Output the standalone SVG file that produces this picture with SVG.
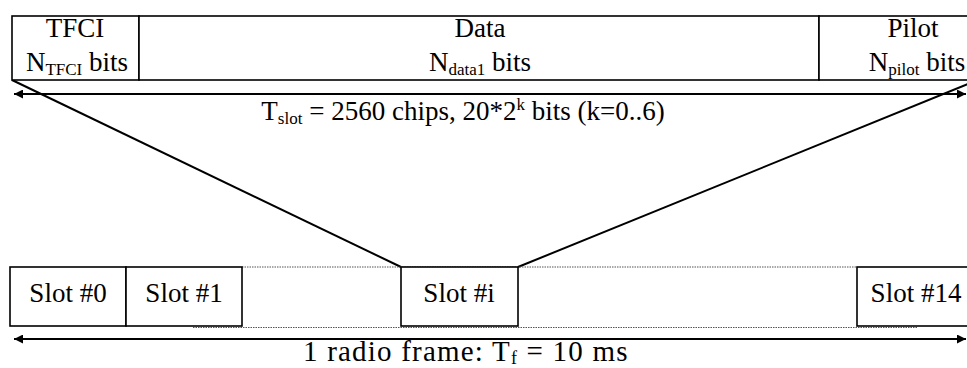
<svg xmlns="http://www.w3.org/2000/svg" width="967" height="368" viewBox="0 0 967 368">
<defs>
<marker id="ah" viewBox="0 0 10 10" refX="10" refY="5" markerWidth="12" markerHeight="9" orient="auto-start-reverse" markerUnits="userSpaceOnUse">
<path d="M0,0 L10,5 L0,10 Z" fill="#000"/>
</marker>
<style>
text{font-family:"Liberation Serif","Times New Roman",Times,serif;font-size:27px;fill:#000;text-anchor:middle}
.box{fill:#fff;stroke:#000;stroke-width:1.6}
.ln{stroke:#000;stroke-width:2;fill:none}
.dot{stroke:#555;stroke-width:1;stroke-dasharray:1.5 1;fill:none}
.sub{font-size:17px}
.wide{font-size:29px;letter-spacing:1.2px;text-anchor:start}
.wide .sub{font-size:18px}
</style>
</defs>
<rect width="967" height="368" fill="#fff"/>
<g id="connectors">
<line class="ln" x1="12" y1="80" x2="401" y2="267"/>
<line class="ln" x1="968" y1="84" x2="518" y2="267"/>
<line class="ln" x1="14" y1="94" x2="966" y2="94" marker-start="url(#ah)" marker-end="url(#ah)"/>
<line class="ln" x1="14" y1="339" x2="966" y2="339" marker-start="url(#ah)" marker-end="url(#ah)"/>
<line class="dot" x1="242" y1="267" x2="857" y2="267"/>
<line class="dot" x1="193" y1="327.5" x2="918" y2="327.5"/>
</g>
<g id="tfci">
<rect class="box" x="12" y="16" width="127" height="64"/>
<text x="75" y="37">TFCI</text>
<text x="77" y="71">N<tspan class="sub" dy="4">TFCI</tspan><tspan dy="-4"> bits</tspan></text>
</g>
<g id="data">
<rect class="box" x="139" y="16" width="680" height="64"/>
<text x="480" y="37">Data</text>
<text x="480" y="71">N<tspan class="sub" dy="4">data1</tspan><tspan dy="-4"> bits</tspan></text>
</g>
<g id="pilot">
<rect class="box" x="819" y="16" width="170" height="64"/>
<text x="913" y="37">Pilot</text>
<text x="917" y="71">N<tspan class="sub" dy="4">pilot</tspan><tspan dy="-4"> bits</tspan></text>
</g>
<g id="tslot-label">
<text x="463" y="120">T<tspan class="sub" dy="4">slot</tspan><tspan dy="-4"> = 2560 chips, 20*2</tspan><tspan class="sub" dy="-10">k</tspan><tspan dy="10"> bits (k=0..6)</tspan></text>
</g>
<g id="slot0">
<rect class="box" x="10" y="267" width="116" height="59"/>
<text x="68" y="302">Slot #0</text>
</g>
<g id="slot1">
<rect class="box" x="126" y="267" width="116" height="59"/>
<text x="184" y="302">Slot #1</text>
</g>
<g id="sloti">
<rect class="box" x="401" y="267" width="117" height="59"/>
<text x="459" y="302">Slot #i</text>
</g>
<g id="slot14">
<rect class="box" x="857" y="267" width="120" height="59"/>
<text x="916" y="302">Slot #14</text>
</g>
<g id="frame-label">
<text class="wide" x="303" y="361">1 radio frame: T<tspan class="sub" dy="3">f</tspan><tspan dy="-3"> = 10 ms</tspan></text>
</g>
</svg>
